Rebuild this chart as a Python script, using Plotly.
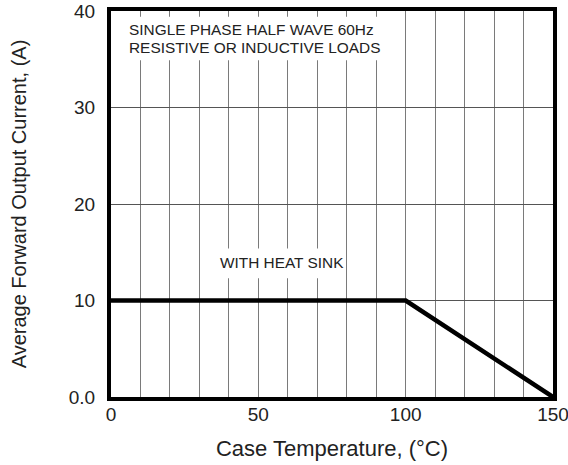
import plotly.graph_objects as go

# Data
temp_c = [0, 100, 150]
current_a = [10, 10, 0]
x_ticks = [0, 50, 100, 150]
x_tick_labels = ["0", "50", "100", "150"]
y_ticks = [0, 10, 20, 30, 40]
y_tick_labels = ["0.0", "10", "20", "30", "40"]
note_top_1 = "SINGLE PHASE HALF WAVE 60Hz"
note_top_2 = "RESISTIVE OR INDUCTIVE LOADS"
note_mid = "WITH HEAT SINK"

FONT = "Liberation Sans, Arial, sans-serif"
TXT = "#222222"

fig = go.Figure()
fig.add_trace(go.Scatter(x=temp_c, y=current_a, mode="lines",
                         line=dict(color="black", width=4.5),
                         hoverinfo="skip", showlegend=False))

# white boxes behind the notes (gridlines interrupted)
fig.add_shape(type="rect", xref="x", yref="y", x0=0.6, x1=95, y0=34.9, y1=39.4,
              fillcolor="white", line=dict(width=0), layer="between")
fig.add_shape(type="rect", xref="x", yref="y", x0=32, x1=77, y0=12.3, y1=15.4,
              fillcolor="white", line=dict(width=0), layer="between")

for txt, yv in [(note_top_1, 38.05), (note_top_2, 36.2)]:
    fig.add_annotation(x=5.5, y=yv, xref="x", yref="y", text=txt, showarrow=False,
                       xanchor="left", yanchor="middle", align="left",
                       font=dict(family=FONT, size=15.4, color=TXT))
fig.add_annotation(x=36.2, y=13.9, xref="x", yref="y", text=note_mid, showarrow=False,
                   xanchor="left", yanchor="middle",
                   font=dict(family=FONT, size=15.4, color=TXT))

fig.update_xaxes(range=[0, 150], tickvals=x_ticks, ticktext=x_tick_labels,
                 showgrid=False, zeroline=False, automargin=False,
                 minor=dict(dtick=10, showgrid=True, gridcolor="#7a7a7a", gridwidth=1),
                 showline=True, linecolor="black", linewidth=4, mirror=True,
                 ticks="", ticklabelstandoff=-3, ticklabeloverflow="allow",
                 tickfont=dict(family=FONT, size=19, color=TXT),
                 title=dict(text="Case Temperature, (°C)", standoff=18,
                            font=dict(family=FONT, size=22, color=TXT)))
fig.update_yaxes(range=[0, 40], tickvals=y_ticks, ticktext=y_tick_labels,
                 showgrid=True, gridcolor="#555555", gridwidth=1, zeroline=False,
                 automargin=False,
                 showline=True, linecolor="black", linewidth=4, mirror=True,
                 ticks="", ticklabelstandoff=8, ticklabeloverflow="allow",
                 tickfont=dict(family=FONT, size=19, color=TXT),
                 title=dict(text="Average Forward Output Current, (A)", standoff=38,
                            font=dict(family=FONT, size=20, color=TXT)))

fig.update_layout(width=568, height=465, paper_bgcolor="white", plot_bgcolor="white",
                  margin=dict(l=111, r=15, t=11, b=68))

fig.write_html("out.html", config={"displayModeBar": False},
               post_script="document.body.style.margin='0';document.body.style.padding='0';")
